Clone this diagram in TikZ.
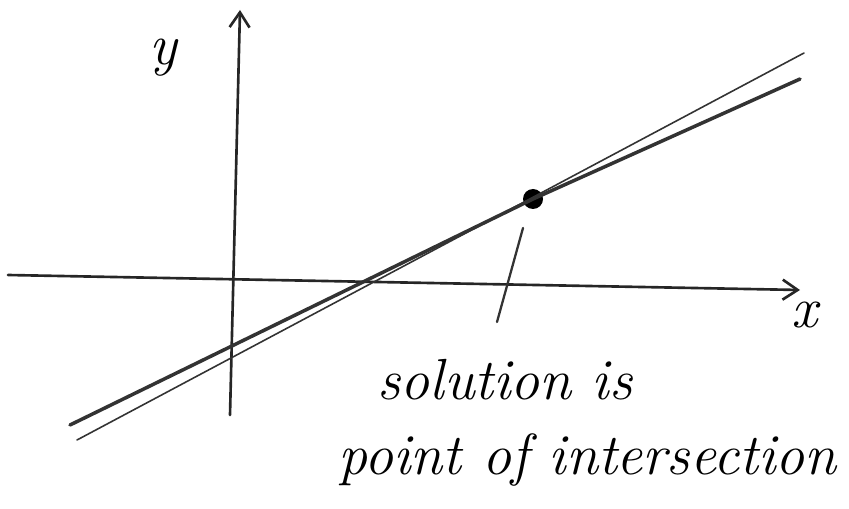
\documentclass[tikz,border=0pt]{standalone}
\usepackage{tikz}
\usetikzlibrary{arrows.meta}

\begin{document}
\begin{tikzpicture}[
  axis/.style={draw=black!85, line width=1.5pt, line cap=round,
    -{Straight Barb[length=3mm, width=4mm]}},
  graphline/.style={draw=black!80, line cap=round},
  hand/.style={font=\fontsize{33}{40}\selectfont\itshape, inner sep=0pt}]
\useasboundingbox (0,0) rectangle (16.98,10.16);
% axes
\coordinate (xstart) at (0.16,4.66);
\coordinate (xend) at (16.0,4.36);
\coordinate (ystart) at (4.6,1.86);
\coordinate (yend) at (4.8,9.96);
\draw[axis] (xstart) -- (xend);
\draw[axis] (ystart) -- (yend);
\node[hand] (xlabel) at (16.1,3.86) {x};
\node[hand] (ylabel) at (3.26,9.0) {y};
% the two lines
\node[circle, fill=black, inner sep=0pt, minimum size=4mm] (meet) at (10.66,6.18) {};
\coordinate (thinA) at (1.54,1.36);
\coordinate (thinB) at (16.08,9.1);
\coordinate (thickA) at (1.4,1.66);
\coordinate (thickB) at (16.0,8.58);
\draw[graphline, line width=0.9pt] (thinA) -- (thinB);
\draw[graphline, line width=2pt] (thickA) -- (meet.center) -- (thickB);
% label
\node[hand] (sol) at (10.1,2.56) {solution is};
\node[hand] (point) at (11.75,0.96) {point of intersection};
\coordinate (tipA) at (10.46,5.6);
\coordinate (tipB) at (9.94,3.72);
\draw[graphline, line width=1.3pt] (tipA) -- (tipB);
\end{tikzpicture}
\end{document}
